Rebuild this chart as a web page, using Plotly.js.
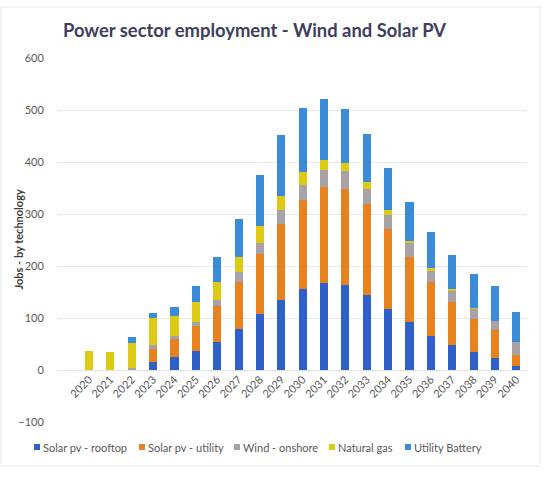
<!DOCTYPE html>
<html>
<head>
<meta charset="utf-8">
<script src="https://cdn.plot.ly/plotly-3.0.1.min.js"></script>
<style>
html,body{margin:0;padding:0;background:#ffffff;}
#chart{width:550px;height:479px;}
</style>
</head>
<body>
<div id="chart"></div>
<script>
// ---- data ----
const years = ['2020','2021','2022','2023','2024','2025','2026','2027','2028','2029','2030',
               '2031','2032','2033','2034','2035','2036','2037','2038','2039','2040'];
const solarRooftop  = [0, 0, 0, 16, 25, 37, 53, 79, 107, 135, 156, 167, 163, 145, 117, 92, 66, 49, 34, 24, 8];
const solarUtility  = [0, 0, 0, 24, 34, 48, 71, 90, 116, 145, 170, 185, 186, 175, 154, 126, 103, 82, 64, 53, 20];
const windOnshore   = [0, 0, 3, 8, 6, 8, 11, 19, 22, 27, 30, 33, 33, 29, 28, 26, 21, 21, 19, 18, 25];
const naturalGas    = [37, 35, 48, 52, 39, 37, 35, 30, 32, 27, 24, 19, 16, 13, 9, 5, 6, 4, 2, 0, 0];
const utilityBattery= [0, 0, 13, 10, 17, 31, 48, 73, 98, 118, 124, 118, 104, 92, 81, 74, 70, 66, 66, 66, 58];
const seriesNames = ['Solar pv - rooftop', 'Solar pv - utility', 'Wind - onshore', 'Natural gas', 'Utility Battery'];
const titleText = 'Power sector employment - Wind and Solar PV';
const yTitleText = 'Jobs - by technology';

// ---- styles ----
const seriesValues = [solarRooftop, solarUtility, windOnshore, naturalGas, utilityBattery];
const seriesColors = ['#2d60c8', '#e8821e', '#a8a2a6', '#dccb12', '#3a8cd8'];
const legendTextX = [42, 147, 242, 337, 413];   // px position of each legend label
const legendY = 447;

const W = 550, H = 479;
const L = 57, R = 23, T = 58, B = 57;
const pw = W - L - R, ph = H - T - B;
const px = v => (v - L) / pw;
const py = v => (H - B - v) / ph;

const traces = seriesNames.map((name, i) => ({
  type: 'bar',
  name: name,
  x: years,
  y: seriesValues[i],
  marker: {color: seriesColors[i], line: {width: 0}},
  hoverinfo: 'x+y+name'
}));

// legend drawn as small squares + real text labels
const legendShapes = seriesNames.map((name, i) => ({
  type: 'rect', xref: 'paper', yref: 'paper',
  x0: px(legendTextX[i] - 8), x1: px(legendTextX[i] - 2),
  y0: py(legendY + 3), y1: py(legendY - 3),
  fillcolor: seriesColors[i], line: {width: 0}
}));
const legendAnnotations = seriesNames.map((name, i) => ({
  xref: 'paper', yref: 'paper',
  x: px(legendTextX[i] - 1), y: py(legendY),
  xanchor: 'left', yanchor: 'middle',
  text: name, showarrow: false,
  font: {size: 11, color: '#595959'}
}));
// y-axis title placed as rotated text
const yTitleAnnotation = {
  xref: 'paper', yref: 'paper',
  x: px(17.5), y: py(240),
  xanchor: 'center', yanchor: 'middle',
  textangle: -90,
  text: '<b>' + yTitleText + '</b>', showarrow: false,
  font: {size: 11, color: '#404040'}
};

const layout = {
  width: W, height: H,
  margin: {l: L, r: R, t: T, b: B, pad: 0},
  paper_bgcolor: '#ffffff',
  plot_bgcolor: '#ffffff',
  font: {family: 'Lato, "Open Sans", sans-serif', color: '#595959', size: 11},
  title: {
    text: '<b>' + titleText + '</b>',
    font: {family: 'Lato, "Open Sans", sans-serif', size: 18.4, color: '#3e3e5e'},
    x: 63 / W, xanchor: 'left', xref: 'container',
    y: 1 - 31 / H, yanchor: 'middle', yref: 'container'
  },
  barmode: 'stack',
  bargap: 0.625,
  showlegend: false,
  xaxis: {
    type: 'category',
    range: [-1.5, 20.5],
    anchor: 'free',
    position: 100 / 700,
    tickangle: -45,
    showgrid: false,
    showline: false,
    zeroline: false,
    ticks: '',
    tickfont: {size: 11, color: '#595959'},
    automargin: false,
    fixedrange: true
  },
  yaxis: {
    range: [-100, 600],
    dtick: 100,
    tick0: 0,
    showgrid: true,
    gridcolor: '#e8e8e8',
    gridwidth: 1,
    zeroline: true,
    zerolinecolor: '#e4e4e4',
    zerolinewidth: 1,
    showline: false,
    ticks: 'outside',
    ticklen: 10,
    tickcolor: 'rgba(0,0,0,0)',
    tickfont: {size: 11, color: '#595959'},
    automargin: false,
    fixedrange: true
  },
  shapes: [{
    type: 'rect', xref: 'paper', yref: 'paper',
    x0: px(1), x1: px(540), y0: py(466), y1: py(7),
    line: {color: '#e6e6e6', width: 1},
    fillcolor: 'rgba(0,0,0,0)',
    layer: 'below'
  }].concat(legendShapes),
  annotations: legendAnnotations.concat([yTitleAnnotation])
};

Plotly.newPlot('chart', traces, layout, {displayModeBar: false, staticPlot: true});
</script>
</body>
</html>
